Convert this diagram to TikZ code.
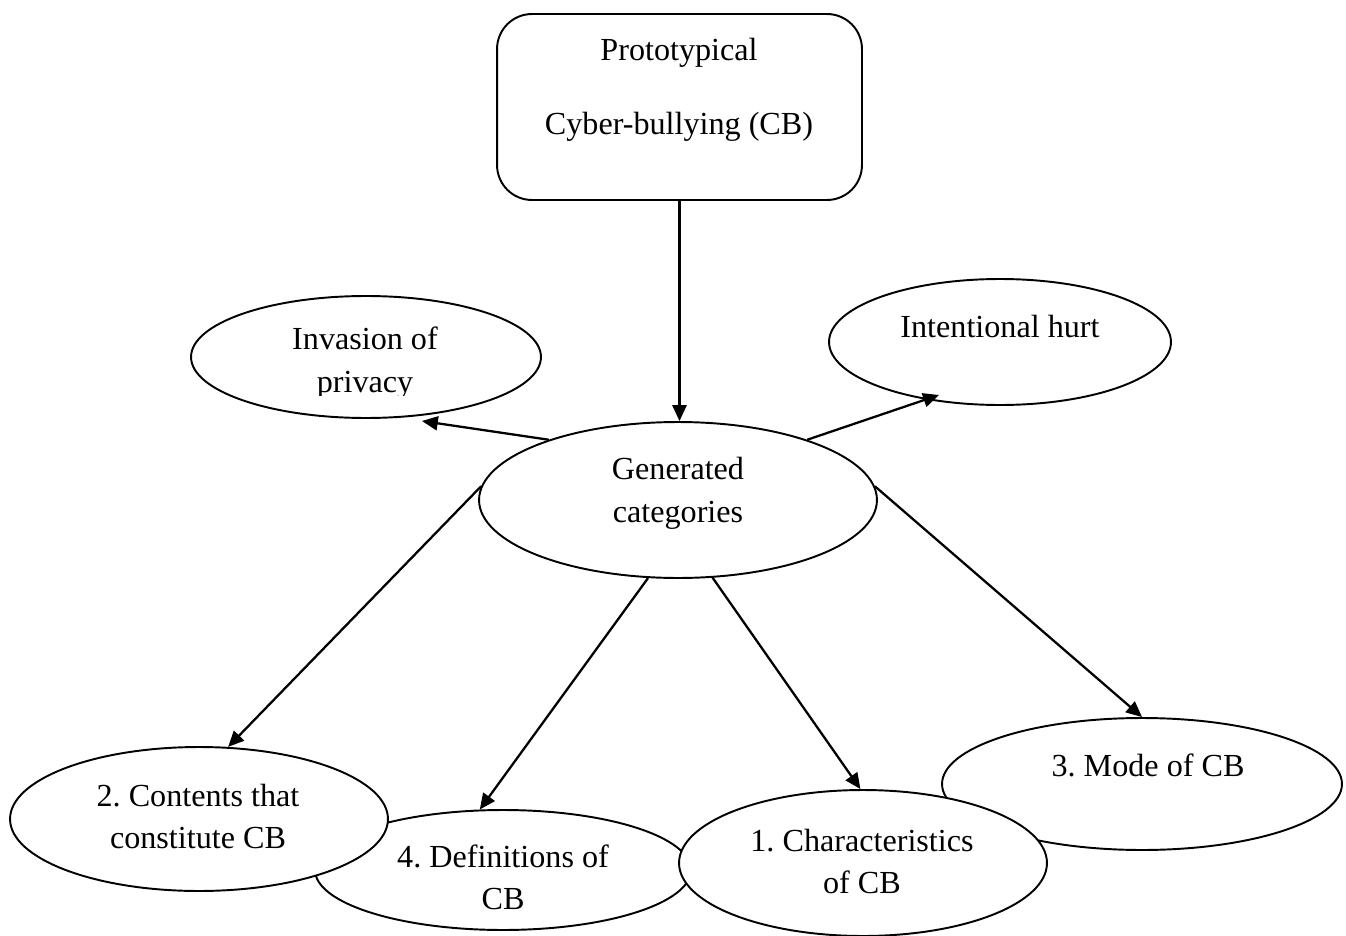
\documentclass[tikz,border=0pt]{standalone}
\usepackage{fontspec}
\setmainfont{Liberation Serif}
\usetikzlibrary{shapes.geometric,arrows.meta,calc}
\frenchspacing
\begin{document}
\begin{tikzpicture}[x=0.02cm,y=-0.02cm,
  every node/.style={font=\fontsize{18.3}{23.9}\selectfont},
  oval/.style={ellipse,draw,line width=1.1pt,fill=white,inner sep=0pt},
  lbl/.style={align=center,inner sep=0pt},
  conn/.style={line width=1.3pt,-{Triangle[length=9pt,width=8pt]}}]
\useasboundingbox (0,0) rectangle (1346,936);
% top box
\node[draw,line width=1.1pt,rounded corners=0.7cm,minimum width=7.3cm,minimum height=3.72cm,inner sep=0pt] (box) at (679.5,107) {};
\node[lbl,font=\fontsize{18.3}{42.1}\selectfont] (boxt) at (679,90) {Prototypical\\Cyber-bullying (CB)};
% upper ellipses
\node[oval,minimum width=7.0cm,minimum height=2.44cm] (inv) at (366,357) {};
\begin{scope}
\clip ($(inv.center)+(-160,-60)$) rectangle ($(inv.center)+(160,38)$);
\node[lbl,font=\fontsize{18.3}{24.5}\selectfont] (invt) at (365,363.5) {Invasion of\\privacy};
\end{scope}
\node[oval,minimum width=6.84cm,minimum height=2.52cm] (int) at (1000,342) {};
\node[lbl] (intt) at (1000,327) {Intentional hurt};
\node[oval,minimum width=7.96cm,minimum height=3.12cm] (gen) at (678,500) {};
\node[lbl,font=\fontsize{18.3}{24.5}\selectfont] (gent) at (678,493.5) {Generated\\categories};
% bottom ellipses (stacking order matters)
\node[oval,minimum width=7.52cm,minimum height=2.40cm] (defs) at (503,870) {};
\node[lbl] (defst) at (503,877.5) {4. Definitions of\\CB};
\node[oval,minimum width=8.0cm,minimum height=2.64cm] (mode) at (1142,784) {};
\node[lbl] (modet) at (1148,765) {3. Mode of CB};
\node[oval,minimum width=7.56cm,minimum height=2.88cm] (cont) at (199,819) {};
\node[lbl] (contt) at (198,816.5) {2. Contents that\\constitute CB};
\node[oval,minimum width=7.36cm,minimum height=2.92cm] (char) at (863,863) {};
\node[lbl] (chart) at (862,861) {1. Characteristics\\of CB};
% connectors
\draw[conn] (box.south) -- (box.south |- gen.north);
\draw[conn] (gen.155) -- ($(inv.center)+(56,64)$);
\draw[conn] (gen.25) -- ($(int.center)+(-61,53)$);
\draw[conn] (gen.176) -- (cont.68);
\draw[conn] (gen.249) -- (defs.111);
\draw[conn] (gen.294) -- (char.92);
\draw[conn] (gen.4) -- (mode.90);
\end{tikzpicture}
\end{document}
